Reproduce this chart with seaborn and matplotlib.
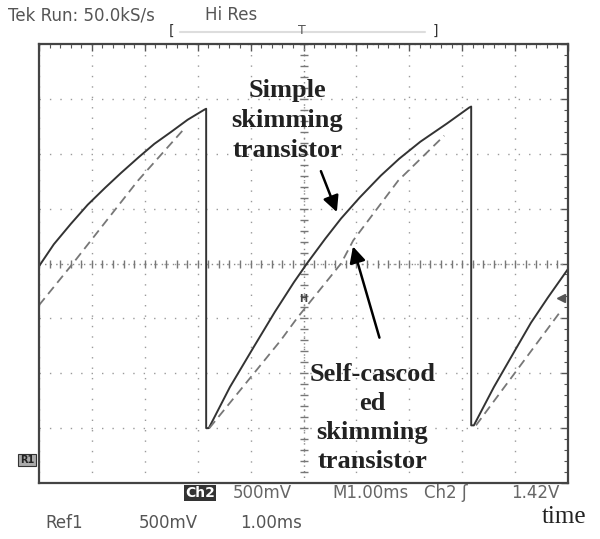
import numpy as np
import pandas as pd
import seaborn as sns
import matplotlib.pyplot as plt

sns.set_style("white")
plt.rcParams['font.family'] = ['DejaVu Sans']

# trace values, x in ms (1 div), y in divisions (500 mV/div)
solid_t = [0.00, 0.28, 0.60, 0.92, 1.25, 1.55, 1.90, 2.18, 2.50, 2.81, 3.12,
           3.16, 3.16, 3.21,
           3.61, 4.06, 4.46, 4.82, 5.08, 5.41, 5.71, 6.06, 6.46, 6.81, 7.21,
           7.71, 8.13, 8.17, 8.17, 8.22,
           8.60, 9.00, 9.30, 9.62, 10.00]
solid_v = [-0.05, 0.35, 0.72, 1.07, 1.38, 1.65, 1.95, 2.18, 2.40, 2.62, 2.80,
           2.82, -3.00, -3.00,
           -2.25, -1.52, -0.88, -0.34, 0.02, 0.45, 0.82, 1.20, 1.60, 1.91, 2.22,
           2.55, 2.84, 2.86, -2.95, -2.95,
           -2.25, -1.58, -1.08, -0.62, -0.10]

dash1_t = [0.00, 0.64, 1.87, 2.74]
dash1_v = [-0.76, 0.00, 1.51, 2.45]
dash2_t = [3.22, 4.57, 4.89, 5.71, 5.94, 6.79, 7.66]
dash2_v = [-3.00, -1.40, -0.98, 0.00, 0.42, 1.51, 2.33]
dash3_t = [8.26, 9.83]
dash3_v = [-2.95, -0.91]

top_labels = ["Tek Run: 50.0kS/s", "Hi Res"]
ch2_labels = ["500mV", "M1.00ms", "Ch2 \u0283", "1.42V"]
ref_labels = ["Ref1", "500mV", "1.00ms"]


def px(x, y):
    return (x / 600, 1 - y / 539)


fig = plt.figure(figsize=(6, 5.39), dpi=100)
ax = fig.add_axes([39 / 600, 1 - 483 / 539, 529 / 600, 439 / 539])

# scope graticule
ax.set_xlim(0, 10)
ax.set_ylim(-4, 4)
ax.set_xticks(np.arange(0, 11, 1))
ax.set_yticks(np.arange(-4, 5, 1))
ax.set_xticks(np.arange(0, 10.01, 0.2), minor=True)
ax.set_yticks(np.arange(-4, 4.01, 0.2), minor=True)
ax.tick_params(which='both', direction='in', top=True, right=True,
               labelbottom=False, labelleft=False, color='#555555')
ax.tick_params(which='major', length=5, width=1)
ax.tick_params(which='minor', length=3, width=0.8)
ax.grid(True, which='major', color='#9a9a9a', lw=1.0, ls=(0, (1, 6.5)))
for s in ax.spines.values():
    s.set_color('#444444')
    s.set_linewidth(1.6)

ax.axhline(0, color='#888888', lw=1.0, ls=(0, (1, 3)))
ax.axvline(5, color='#888888', lw=1.0, ls=(0, (1, 3)))
ticks = np.arange(0, 10.01, 0.2)
ax.plot(ticks, np.zeros_like(ticks), ls='none', marker='|', ms=6, color='#777777', mew=1)
ticks = np.arange(-4, 4.01, 0.2)
ax.plot(np.full_like(ticks, 5), ticks, ls='none', marker='_', ms=6, color='#777777', mew=1)

# waveforms
sns.lineplot(x=solid_t, y=solid_v, sort=False, estimator=None, ax=ax,
             color='#333333', lw=1.4)
for t, v in [(dash1_t, dash1_v), (dash2_t, dash2_v), (dash3_t, dash3_v)]:
    sns.lineplot(x=t, y=v, sort=False, estimator=None, ax=ax,
                 color='#777777', lw=1.3, dashes=(5, 3))

# annotations
serif = ['Liberation Serif', 'DejaVu Serif']
ax.text(4.69, 2.60, "Simple\nskimming\ntransistor", ha='center', va='center',
        fontsize=19, fontweight='bold', family=serif, linespacing=1.38,
        color='#222222')
ax.text(6.30, -2.81, "Self-cascod\ned\nskimming\ntransistor", ha='center',
        va='center', fontsize=19, fontweight='bold', family=serif,
        linespacing=1.33, color='#222222')
ax.annotate("", xy=(5.65, 0.89), xytext=(5.31, 1.73),
            arrowprops=dict(arrowstyle='-|>', mutation_scale=24, lw=1.8, color='black'))
ax.annotate("", xy=(5.92, 0.36), xytext=(6.45, -1.40),
            arrowprops=dict(arrowstyle='-|>', mutation_scale=24, lw=1.8, color='black'))

# markers on the screen
ax.text(5.0, -0.64, "H", ha='center', va='center', fontsize=7,
        fontweight='bold', color='#444444')
ax.plot([9.86], [-0.63], marker='<', ms=6, color='#555555', ls='none', clip_on=False)

# scope readouts
gray = '#555555'
fig.text(*px(8, 15), top_labels[0], fontsize=12, color=gray, va='center')
fig.text(*px(205, 15), top_labels[1], fontsize=12, color=gray, va='center')
fig.text(*px(172, 31), "[", fontsize=10, color='#333333', va='center', ha='center')
fig.text(*px(302, 31), "T", fontsize=9, color='#555555', va='center', ha='center')
fig.text(*px(435, 31), "]", fontsize=10, color='#333333', va='center', ha='center')
fig.add_artist(plt.Line2D([180 / 600, 425 / 600], [1 - 32 / 539] * 2,
                          color='#dddddd', lw=1.5))
fig.text(*px(27, 460), "R1", fontsize=7, fontweight='bold', color='#222222',
         va='center', ha='center',
         bbox=dict(boxstyle='square,pad=0.15', fc='#aaaaaa', ec='#333333', lw=0.8))

fig.text(*px(200, 493), "Ch2", fontsize=10, fontweight='bold', color='white',
         va='center', ha='center',
         bbox=dict(boxstyle='square,pad=0.1', fc='#333333', ec='none'))
for lab, x in zip(ch2_labels, [262, 371, 446, 535]):
    fig.text(*px(x, 493), lab, fontsize=12, color='#666666', va='center', ha='center')
for lab, x in zip(ref_labels, [64, 168, 271]):
    fig.text(*px(x, 523), lab, fontsize=12, color=gray, va='center', ha='center')
fig.text(*px(564, 517), "time", fontsize=18, family=serif, color='#222222',
         va='center', ha='center')

fig.savefig("out.png", dpi=100)
